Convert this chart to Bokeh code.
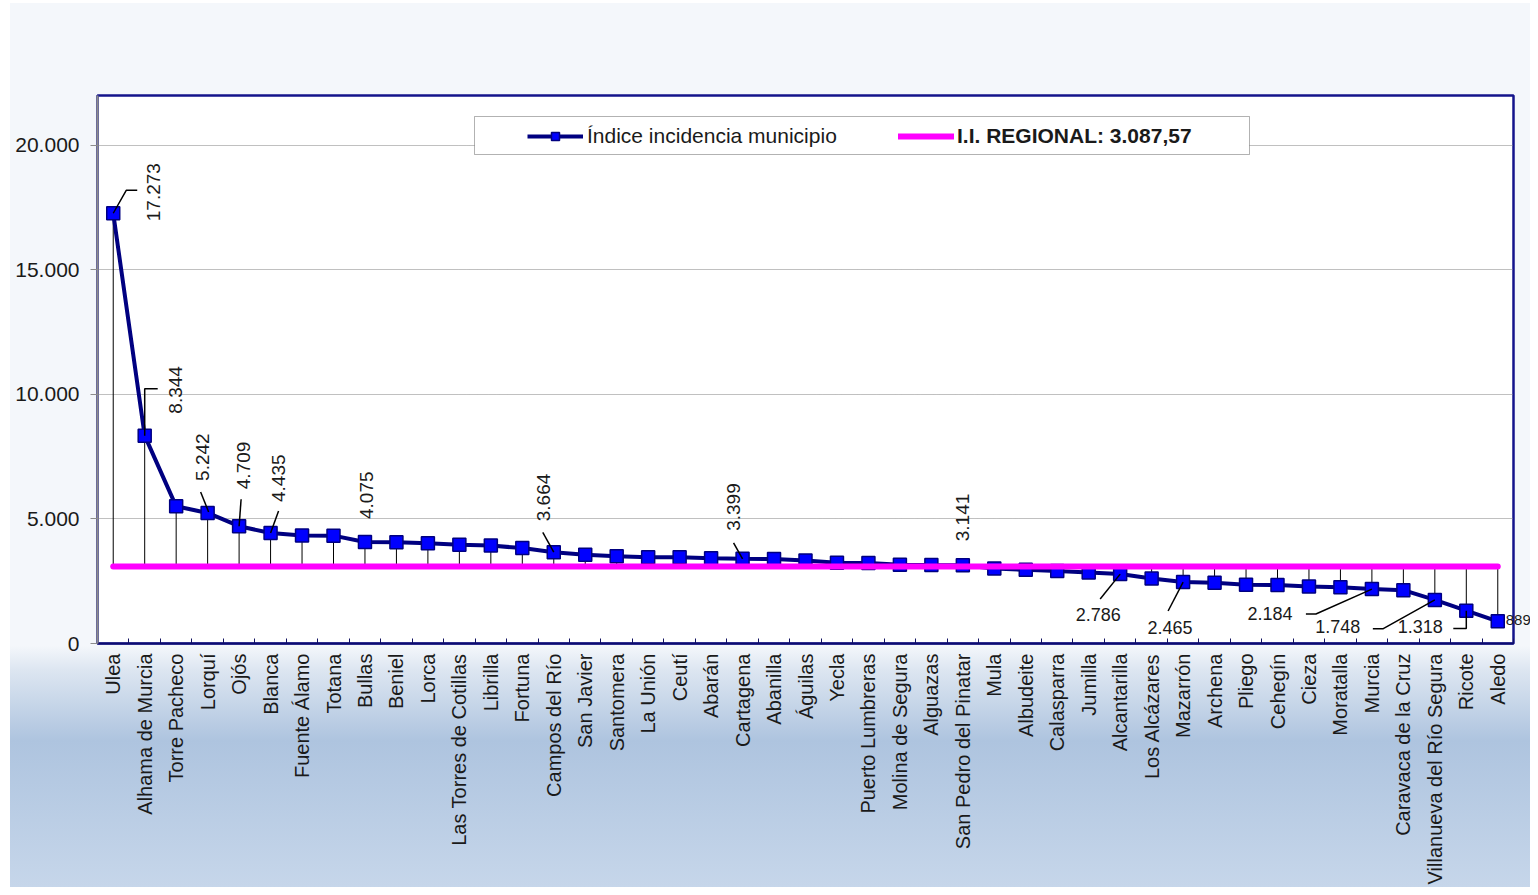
import math
from bokeh.plotting import figure
from bokeh.models import FixedTicker, Label, Legend, LegendItem, BoxAnnotation, Range1d
from bokeh.embed import file_html
from bokeh.resources import INLINE

# ---------------- data ----------------
municipios = [
    "Ulea", "Alhama de Murcia", "Torre Pacheco", "Lorquí", "Ojós", "Blanca",
    "Fuente Álamo", "Totana", "Bullas", "Beniel", "Lorca", "Las Torres de Cotillas",
    "Librilla", "Fortuna", "Campos del Río", "San Javier", "Santomera", "La Unión",
    "Ceutí", "Abarán", "Cartagena", "Abanilla", "Águilas", "Yecla",
    "Puerto Lumbreras", "Molina de Segura", "Alguazas", "San Pedro del Pinatar",
    "Mula", "Albudeite", "Calasparra", "Jumilla", "Alcantarilla", "Los Alcázares",
    "Mazarrón", "Archena", "Pliego", "Cehegín", "Cieza", "Moratalla", "Murcia",
    "Caravaca de la Cruz", "Villanueva del Río Segura", "Ricote", "Aledo",
]
incidencia = [
    17273, 8344, 5507, 5242, 4709, 4435, 4335, 4330, 4075, 4062, 4020, 3968,
    3930, 3830, 3664, 3560, 3505, 3465, 3460, 3420, 3399, 3390, 3335, 3245,
    3235, 3165, 3150, 3141, 3010, 2960, 2910, 2850, 2786, 2610, 2465, 2440,
    2360, 2350, 2290, 2260, 2184, 2140, 1748, 1318, 889,
]
regional = 3087.57
regional_label = "I.I. REGIONAL: 3.087,57"
serie_label = "Índice incidencia municipio"
y_ticks = [0, 5000, 10000, 15000, 20000]
y_tick_labels = ["0", "5.000", "10.000", "15.000", "20.000"]

# which points carry a data label
labelled = ["Ulea", "Alhama de Murcia", "Lorquí", "Ojós", "Blanca", "Bullas",
            "Campos del Río", "Cartagena", "San Pedro del Pinatar", "Alcantarilla",
            "Mazarrón", "Murcia", "Villanueva del Río Segura", "Ricote", "Aledo"]

# ---------------- layout (pixel offsets of labels / leader lines) ----------------
# (dx, dy_up, rotated, align, font size, panel)
# the last label sits partly outside the plot frame, so it is attached to the
# (tall enough) top panel, where it is not clipped to the frame
label_pos = [
    (40, -8, True, "left", 19, "center"), (31, 22, True, "left", 19, "center"),
    (-5, 32, True, "left", 19, "center"), (4, 37, True, "left", 19, "center"),
    (8, 31, True, "left", 19, "center"), (2, 23, True, "left", 19, "center"),
    (-10, 31, True, "left", 19, "center"), (-9, 28, True, "left", 19, "center"),
    (0, 24, True, "left", 19, "center"),
    (-22, -40, False, "center", 18, "center"), (-13, -45, False, "center", 18, "center"),
    (-102, -24, False, "center", 18, "center"), (-97, -27, False, "center", 18, "center"),
    (-46, -16, False, "center", 18, "center"), (8, 1, False, "left", 15, "above"),
]
leader_paths = [
    [(0, 0), (13, 23), (24, 23)], [(0, 0), (0, 47), (13, 47)], [(1, 1), (-7, 21)],
    [(0, 0), (2, 27)], [(0, 0), (8, 22)], None,
    [(0, 0), (-11, 20)], [(0, 0), (-9, 16)], None,
    [(0, 0), (-20, -25)], [(0, 0), (-15, -29)], [(0, 0), (-56, -25), (-66, -25)],
    [(0, 0), (-52, -29), (-62, -29)], [(0, 0), (0, -18), (-13, -18)], None,
]

W, H = 1530, 887
BL, BR, BT, BB = 97, 17, 95, 242
FW, FH = W - BL - BR, H - BT - BB
YMAX = 22000
n = len(municipios)
idx = list(range(n))
ppc = FW / n          # pixels per category
vpp = YMAX / FH       # value per pixel

FONT = "Liberation Sans"
TXT = "#1a1a1a"

p = figure(width=W, height=H, x_range=Range1d(-0.5, n - 0.5), y_range=Range1d(0, YMAX),
           output_backend="svg", toolbar_location=None,
           min_border_left=BL, min_border_right=BR, min_border_top=BT, min_border_bottom=BB)
p.background_fill_color = "white"
p.border_fill_alpha = 0
p.styles = {"background": "linear-gradient(to right, #ffffff 0px, #ffffff 10px, transparent 10px), "
                          "linear-gradient(to bottom, #ffffff 0px, #ffffff 3px, transparent 3px), "
                          "linear-gradient(to bottom, #f4f7fb 0%, #f4f7fb 72.8%, #dde6f1 75.5%, "
                          "#aec4df 83.5%, #c6d6ea 100%)"}
p.outline_line_color = "#14148c"
p.outline_line_width = 2.5

# x axis
p.xaxis.ticker = FixedTicker(ticks=idx, minor_ticks=[i - 0.5 for i in range(n + 1)])
p.xaxis.major_label_overrides = {i: m for i, m in enumerate(municipios)}
p.xaxis.major_label_orientation = math.pi / 2
p.xaxis.major_tick_in = 0
p.xaxis.major_tick_out = 0
p.xaxis.minor_tick_in = 5
p.xaxis.minor_tick_out = 0
p.xaxis.minor_tick_line_color = "#101060"
p.xaxis.axis_line_color = "#0c0c70"
p.xaxis.axis_line_width = 2
p.xaxis.major_label_standoff = 10
p.xaxis.major_label_text_font = FONT
p.xaxis.major_label_text_font_size = "20px"
p.xaxis.major_label_text_color = TXT
p.xgrid.visible = False

# y axis
p.yaxis.ticker = FixedTicker(ticks=y_ticks)
p.yaxis.major_label_overrides = dict(zip(y_ticks, y_tick_labels))
p.yaxis.major_tick_out = 7
p.yaxis.major_tick_in = 0
p.yaxis.minor_tick_line_color = None
p.yaxis.axis_line_color = "#8c8c8c"
p.yaxis.axis_line_width = 2
p.yaxis.major_tick_line_color = "#8c8c8c"
p.yaxis.major_label_standoff = 11
p.yaxis.major_label_text_font = FONT
p.yaxis.major_label_text_font_size = "21px"
p.yaxis.major_label_text_color = TXT
p.ygrid.ticker = FixedTicker(ticks=y_ticks[1:])
p.ygrid.grid_line_color = "#808080"
p.ygrid.grid_line_dash = "1 1"
p.ygrid.grid_line_width = 1

# drop lines to regional
p.segment(x0=idx, y0=incidencia, x1=idx, y1=[regional] * n, line_color="black", line_width=1)
# series
ln = p.line(idx, incidencia, line_color="#000080", line_width=4)
sc = p.scatter(idx, incidencia, marker="square", size=13, fill_color="#0000ff",
               line_color="#000080", line_width=1.5)
# regional line
reg = p.line([idx[0], idx[-1]], [regional, regional], line_color="#ff00ff", line_width=6,
             line_cap="round")

# leader lines + labels
lx, ly = [], []
for name, pos, path in zip(labelled, label_pos, leader_paths):
    i = municipios.index(name)
    v = incidencia[i]
    if path is not None:
        lx.append([i + dx / ppc for dx, dy in path])
        ly.append([v + dy * vpp for dx, dy in path])
    dx, dy, rot, align, fs, panel = pos
    txt = f"{v:,}".replace(",", ".")
    p.add_layout(Label(x=i, y=v, x_offset=dx, y_offset=dy, text=txt,
                       angle=math.pi / 2 if rot else 0, text_align=align,
                       text_baseline="middle", text_font=FONT,
                       text_font_size=f"{fs}px", text_color=TXT), panel)
p.multi_line(lx, ly, line_color="black", line_width=1.5)

# legend box (screen units, relative to the plot frame, y measured from its bottom)
box = BoxAnnotation(left=377, right=1152, bottom=489, top=527,
                    left_units="screen", right_units="screen",
                    top_units="screen", bottom_units="screen",
                    fill_color="white", fill_alpha=1, line_color="black", line_width=1)
p.add_layout(box)

leg1 = Legend(items=[LegendItem(label=serie_label, renderers=[ln, sc])],
              location=(430, 495), orientation="horizontal", padding=0, margin=0,
              border_line_alpha=0, background_fill_alpha=0, glyph_width=56, glyph_height=20,
              label_standoff=4, label_text_font=FONT, label_text_font_size="21px",
              label_text_color=TXT)
leg2 = Legend(items=[LegendItem(label=regional_label, renderers=[reg])],
              location=(801, 495), orientation="horizontal", padding=0, margin=0,
              border_line_alpha=0, background_fill_alpha=0, glyph_width=56, glyph_height=20,
              label_standoff=3, label_text_font=FONT, label_text_font_size="21px",
              label_text_font_style="bold", label_text_color=TXT)
p.add_layout(leg1, "center")
p.add_layout(leg2, "center")

open("out.html", "w").write(file_html(p, INLINE))
